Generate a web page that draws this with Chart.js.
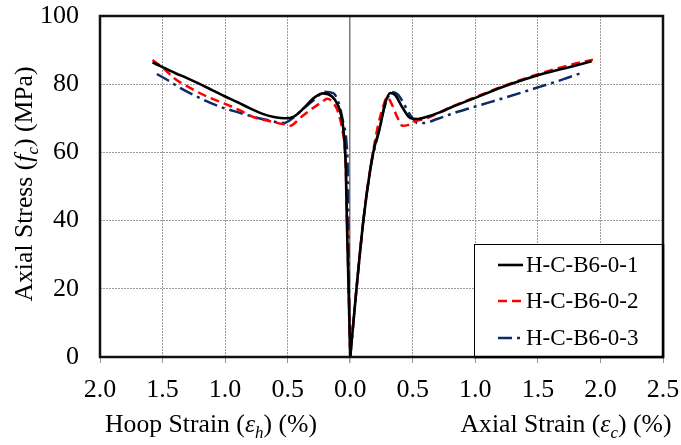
<!DOCTYPE html>
<html>
<head>
<meta charset="utf-8">
<script src="https://cdn.jsdelivr.net/npm/chart.js@4"></script>
<style>
  html, body { margin: 0; padding: 0; background: #fff; }
</style>
</head>
<body>
<canvas id="c" width="681" height="445"></canvas>
<script>
// Specimen names
const specimens = ['H-C-B6-0-1', 'H-C-B6-0-2', 'H-C-B6-0-3'];

// Hoop strain (%) magnitude and axial stress (MPa) — plotted to the left of zero
const hoopStrain1 = [0, 0.013, 0.027, 0.035, 0.05, 0.07, 0.1, 0.145, 0.215, 0.29, 0.37, 0.45, 0.52, 0.6, 0.7, 0.8, 0.9, 1.0, 1.1, 1.2, 1.3, 1.4, 1.5, 1.58];
const hoopStress1 = [0, 20, 40, 55, 65, 70.5, 74, 76.4, 77.3, 76, 73, 70.5, 70, 70.3, 71.3, 72.9, 74.7, 76.4, 78.2, 80, 81.7, 83.3, 85, 86.4];

const hoopStrain2 = [0, 0.006, 0.012, 0.025, 0.035, 0.045, 0.06, 0.095, 0.135, 0.185, 0.225, 0.32, 0.4, 0.48, 0.54, 0.65, 0.77, 0.88, 1.01, 1.14, 1.28, 1.41, 1.49, 1.58];
const hoopStress2 = [0, 10, 20, 40, 55, 62, 66, 71.6, 74.5, 75.7, 74.8, 72.4, 70.1, 67.8, 68.3, 69.2, 70.3, 72.3, 74.4, 76.3, 78.9, 81.8, 84.6, 87.1];

const hoopStrain3 = [0, 0.01, 0.015, 0.02, 0.03, 0.055, 0.095, 0.135, 0.215, 0.265, 0.37, 0.455, 0.535, 0.65, 0.77, 0.9, 1.01, 1.17, 1.36, 1.45, 1.545];
const hoopStress3 = [0, 20, 40, 55, 62.8, 68.6, 74.8, 77.4, 77.8, 76.2, 73, 70.2, 68.6, 69.4, 70.4, 71.8, 73, 75.4, 78.9, 81, 83];

// Axial strain (%) and axial stress (MPa) — plotted to the right of zero
const axialStrain1 = [0, 0.05, 0.105, 0.16, 0.19, 0.235, 0.28, 0.32, 0.36, 0.415, 0.48, 0.54, 0.6, 0.72, 0.8, 1.0, 1.25, 1.5, 1.75, 1.93];
const axialStress1 = [0, 20, 40, 55, 61, 67, 74.5, 77.4, 76.8, 73.3, 70.1, 69.8, 70.3, 71.8, 73.1, 76, 79.6, 82.6, 85, 86.7];

const axialStrain2 = [0, 0.05, 0.105, 0.16, 0.22, 0.26, 0.295, 0.335, 0.375, 0.42, 0.46, 0.505, 0.615, 0.8, 1.0, 1.25, 1.5, 1.75, 1.94];
const axialStress2 = [0, 20, 40, 55, 67.5, 73, 76.2, 73.9, 70.4, 67.8, 68, 68.9, 70.1, 73.2, 76.2, 79.8, 82.9, 85.6, 87.2];

const axialStrain3 = [0, 0.05, 0.105, 0.16, 0.235, 0.28, 0.335, 0.38, 0.425, 0.465, 0.495, 0.54, 0.585, 0.695, 0.8, 0.985, 1.25, 1.52, 1.7, 1.84];
const axialStress3 = [0, 20, 40, 55, 67, 74, 77.7, 77, 74.5, 71.8, 70.1, 68.6, 68.6, 69.8, 71.2, 73.3, 76.2, 79.3, 81.4, 83.2];

// Axis ranges and ticks
const strainMin = -2.0, strainMax = 2.5, strainStep = 0.5;
const stressMin = 0, stressMax = 100, stressStep = 20;

// Line styles per specimen
const lineStyles = [
  { color: '#000000', dash: [], width: 2.6 },
  { color: '#ff0000', dash: [9, 5], width: 2.5 },
  { color: '#0d2b66', dash: [14, 5, 3, 5], width: 2.5 }
];

const SERIF = '"Liberation Serif", "Times New Roman", serif';
const TICK_SIZE = 26;
const TITLE_SIZE = 25.7;

function toPoints(strain, stress, sign) {
  const pts = strain.map((e, i) => ({ x: sign * e, y: stress[i] }));
  return pts.sort((a, b) => a.x - b.x);
}

const hoopSets = [[hoopStrain1, hoopStress1], [hoopStrain2, hoopStress2], [hoopStrain3, hoopStress3]];
const axialSets = [[axialStrain1, axialStress1], [axialStrain2, axialStress2], [axialStrain3, axialStress3]];

const datasets = [];
specimens.forEach((name, i) => {
  const st = lineStyles[i];
  const common = {
    showLine: true,
    borderColor: st.color,
    backgroundColor: st.color,
    borderWidth: st.width,
    borderDash: st.dash,
    pointRadius: 0,
    cubicInterpolationMode: 'monotone',
    fill: false
  };
  datasets.push(Object.assign({ label: name, data: toPoints(hoopSets[i][0], hoopSets[i][1], -1) }, common));
  datasets.push(Object.assign({ label: name, data: toPoints(axialSets[i][0], axialSets[i][1], 1) }, common));
});

// Draws a run of text pieces (normal / italic / subscript) starting at x, on baseline y
function drawRich(ctx, pieces, x, y, size) {
  let cx = x;
  pieces.forEach(p => {
    const fs = p.sub ? size * 0.66 : size;
    ctx.font = (p.italic ? 'italic ' : '') + fs + 'px ' + SERIF;
    ctx.fillText(p.t, cx, y + (p.sub ? size * 0.22 : 0));
    cx += ctx.measureText(p.t).width;
  });
}
function richWidth(ctx, pieces, size) {
  let w = 0;
  pieces.forEach(p => {
    const fs = p.sub ? size * 0.66 : size;
    ctx.font = (p.italic ? 'italic ' : '') + fs + 'px ' + SERIF;
    w += ctx.measureText(p.t).width;
  });
  return w;
}

const hoopTitle = [{ t: 'Hoop Strain (' }, { t: 'ε', italic: true }, { t: 'h', italic: true, sub: true }, { t: ') (%)' }];
const axialTitle = [{ t: 'Axial Strain (' }, { t: 'ε', italic: true }, { t: 'c', italic: true, sub: true }, { t: ') (%)' }];
const stressTitle = [{ t: 'Axial Stress (' }, { t: 'f', italic: true }, { t: 'c', italic: true, sub: true }, { t: ') (MPa)' }];

const decorations = {
  id: 'decorations',
  afterDatasetsDraw(chart) {
    const ctx = chart.ctx;
    const a = chart.chartArea;
    ctx.save();
    // plot frame
    ctx.strokeStyle = '#111';
    ctx.lineWidth = 2.5;
    ctx.strokeRect(a.left, a.top, a.right - a.left, a.bottom - a.top);

    // legend box
    const lx = 474, ly = 244, lw = a.right - 474, lh = a.bottom - 244;
    ctx.fillStyle = '#fff';
    ctx.fillRect(lx, ly, lw, lh);
    ctx.strokeStyle = '#000';
    ctx.lineWidth = 1;
    ctx.strokeRect(lx + 0.5, ly + 0.5, lw - 1, lh - 1);
    ctx.lineWidth = 2.5;
    ctx.beginPath();
    ctx.moveTo(a.right, ly); ctx.lineTo(a.right, a.bottom); ctx.lineTo(lx, a.bottom);
    ctx.stroke();
    const rows = [265, 301, 338];
    specimens.forEach((name, i) => {
      const st = lineStyles[i];
      ctx.strokeStyle = st.color;
      ctx.lineWidth = st.width;
      ctx.setLineDash(st.dash);
      ctx.beginPath();
      ctx.moveTo(498, rows[i]);
      ctx.lineTo(523, rows[i]);
      ctx.stroke();
      ctx.setLineDash([]);
      ctx.fillStyle = '#000';
      ctx.font = '23px ' + SERIF;
      ctx.textBaseline = 'middle';
      ctx.textAlign = 'left';
      ctx.fillText(name, 526, rows[i] + 1);
    });
    ctx.restore();
  },
  afterDraw(chart) {
    const ctx = chart.ctx;
    ctx.save();
    ctx.fillStyle = '#000';
    ctx.textBaseline = 'alphabetic';
    ctx.textAlign = 'left';
    const hw = richWidth(ctx, hoopTitle, TITLE_SIZE);
    drawRich(ctx, hoopTitle, 211 - hw / 2, 432, TITLE_SIZE);
    const aw = richWidth(ctx, axialTitle, TITLE_SIZE);
    drawRich(ctx, axialTitle, 566 - aw / 2, 432, TITLE_SIZE);
    const sw = richWidth(ctx, stressTitle, TITLE_SIZE);
    ctx.translate(32, 184 + sw / 2);
    ctx.rotate(-Math.PI / 2);
    drawRich(ctx, stressTitle, 0, 0, TITLE_SIZE);
    ctx.restore();
  }
};

new Chart(document.getElementById('c'), {
  type: 'scatter',
  data: { datasets },
  options: {
    responsive: false,
    devicePixelRatio: 1,
    animation: false,
    events: [],
    layout: { padding: { top: 16, right: 18, left: 0, bottom: 0 } },
    plugins: { legend: { display: false }, tooltip: { enabled: false } },
    scales: {
      x: {
        type: 'linear',
        min: strainMin, max: strainMax,
        afterFit: s => { s.height = 88; },
        ticks: {
          stepSize: strainStep,
          color: '#000',
          font: { family: SERIF, size: TICK_SIZE, lineHeight: 2.0 },
          padding: 1,
          maxRotation: 0,
          callback: v => Math.abs(v).toFixed(1)
        },
        grid: {
          color: c => (c.tick && c.tick.value === 0) ? '#7a7a7a' : '#9a9a9a',
          lineWidth: c => (c.tick && c.tick.value === 0) ? 1.5 : 1,
          drawTicks: true,
          tickLength: 6,
          tickColor: '#999',
          tickBorderDash: []
        },
        border: { display: false, dash: c => (c.tick && c.tick.value === 0) ? [] : [2, 1] }
      },
      y: {
        type: 'linear',
        min: stressMin, max: stressMax,
        afterFit: s => { s.width = 100; },
        ticks: {
          stepSize: stressStep,
          color: '#000',
          font: { family: SERIF, size: TICK_SIZE },
          padding: 0
        },
        grid: {
          color: '#9a9a9a', lineWidth: 1,
          drawTicks: true, tickLength: 21, tickColor: 'rgba(0,0,0,0)'
        },
        border: { display: false, dash: [2, 1] }
      }
    }
  },
  plugins: [decorations]
});
</script>
</body>
</html>
